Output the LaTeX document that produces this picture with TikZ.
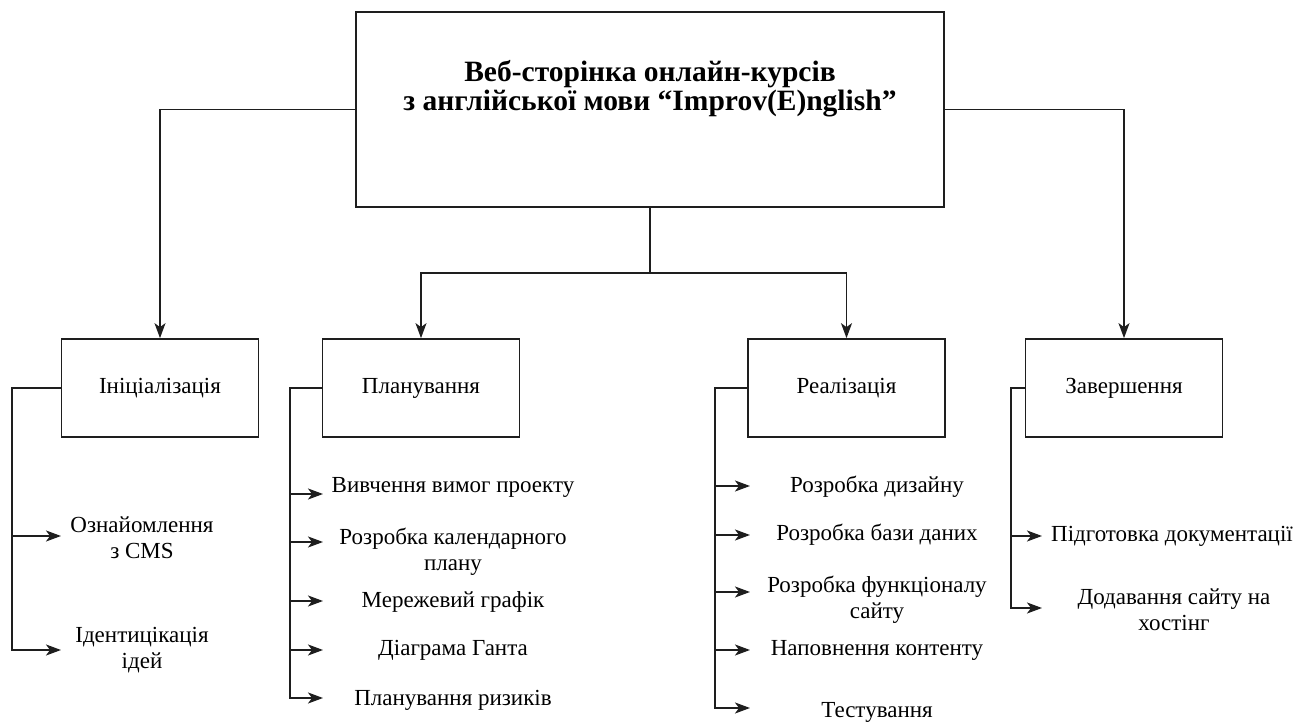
\documentclass[tikz,border=0pt]{standalone}
\usepackage{fontspec}
\setmainfont{Liberation Serif}
\usetikzlibrary{arrows.meta}
\definecolor{lc}{RGB}{30,30,30}
\begin{document}
\begin{tikzpicture}[x=1pt,y=-1pt,
  frame/.style={draw=lc, line width=1.7pt, inner sep=0pt},
  lvbox/.style={frame, minimum width=197pt, minimum height=98pt, font=\fontsize{23}{27}\selectfont},
  titletext/.style={align=center, inner sep=0pt, font=\bfseries\fontsize{29.5}{29}\selectfont},
  item/.style={align=center, inner sep=0pt, font=\fontsize{23}{26}\selectfont},
  conn/.style={draw=lc, line width=1.7pt},
  arr/.style={conn, -{Stealth[length=15pt,width=11pt,inset=4pt]}},
]
\useasboundingbox (0,0) rectangle (1310,727);

% top
\node[frame, minimum width=588pt, minimum height=195pt] (top) at (650,109.5) {};
\node[titletext] (toptext) at (650,89) {Веб-сторінка онлайн-курсів\\з англійської мови “Improv(E)nglish”};

% level 2
\node[lvbox] (init) at (160,388) {Ініціалізація};
\node[lvbox] (plan) at (421,388) {Планування};
\node[lvbox] (real) at (846.5,388) {Реалізація};
\node[lvbox] (fin)  at (1124,388) {Завершення};

\coordinate (hub) at (650,273);
\draw[arr] (top.west) -| (init.north);
\draw[arr] (top.east) -| (fin.north);
\draw[conn] (top.south) -- (hub);
\draw[arr] (hub) -| (plan.north);
\draw[arr] (hub) -| (real.north);

% Initialization items
\node[item] (i1) at (142,538) {Ознайомлення\\з CMS};
\node[item] (i2) at (142,650) {Ідентицікація\\ідей};
\coordinate (ic) at (12,0);
\coordinate (i1a) at (61,536);
\coordinate (i2a) at (61,650);
\draw[arr] (init.west) -| (ic |- i2a) -- (i2a);
\draw[arr] (ic |- i1a) -- (i1a);

% Planning items
\node[item] (p1) at (453,487) {Вивчення вимог проекту};
\node[item] (p2) at (453,552) {Розробка календарного\\плану};
\node[item] (p3) at (453,602) {Мережевий графік};
\node[item] (p4) at (453,650) {Діаграма Ганта};
\node[item] (p5) at (453,700) {Планування ризиків};
\coordinate (pc) at (290,0);
\coordinate (p1a) at (323,494);
\coordinate (p2a) at (323,542);
\coordinate (p3a) at (323,601);
\coordinate (p4a) at (323,650);
\coordinate (p5a) at (323,698);
\draw[arr] (plan.west) -| (pc |- p5a) -- (p5a);
\foreach \k in {p1a,p2a,p3a,p4a} \draw[arr] (pc |- \k) -- (\k);

% Realization items
\node[item] (r1) at (877,487) {Розробка дизайну};
\node[item] (r2) at (877,535) {Розробка бази даних};
\node[item] (r3) at (877,600) {Розробка функціоналу\\сайту};
\node[item] (r4) at (877,650) {Наповнення контенту};
\node[item] (r5) at (877,712) {Тестування};
\coordinate (rc) at (715,0);
\coordinate (r1a) at (750,486);
\coordinate (r2a) at (750,535);
\coordinate (r3a) at (750,592);
\coordinate (r4a) at (750,650);
\coordinate (r5a) at (750,708);
\draw[arr] (real.west) -| (rc |- r5a) -- (r5a);
\foreach \k in {r1a,r2a,r3a,r4a} \draw[arr] (rc |- \k) -- (\k);

% Completion items
\node[item] (f1) at (1172,536) {Підготовка документації};
\node[item] (f2) at (1174,610) {Додавання сайту на\\хостінг};
\coordinate (fc) at (1011,0);
\coordinate (f1a) at (1042,536);
\coordinate (f2a) at (1042,608);
\draw[arr] (fin.west) -| (fc |- f2a) -- (f2a);
\draw[arr] (fc |- f1a) -- (f1a);
\end{tikzpicture}
\end{document}
